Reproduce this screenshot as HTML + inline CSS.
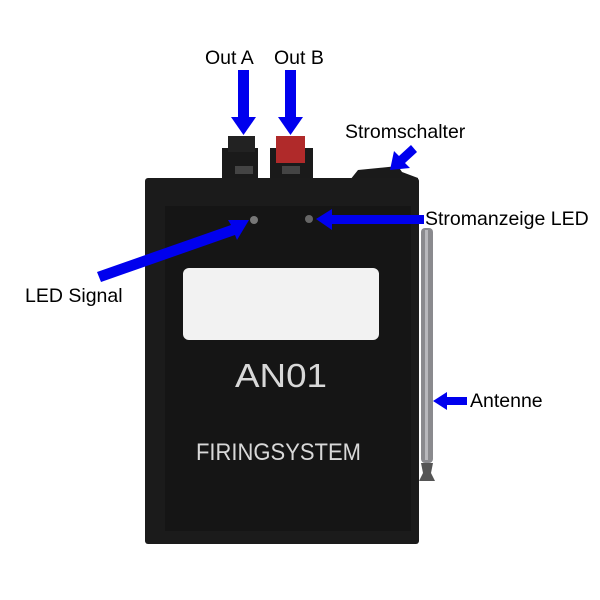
<!DOCTYPE html>
<html><head><meta charset="utf-8"><style>html,body{margin:0;padding:0;background:#fff}svg{display:block}</style></head><body>
<svg width="600" height="600" viewBox="0 0 600 600" xmlns="http://www.w3.org/2000/svg" font-family="Liberation Sans, sans-serif">
<rect width="600" height="600" fill="#fff"/>
<rect x="421" y="228" width="12" height="235" rx="4" fill="#8a8a8e"/>
<rect x="425" y="230" width="3" height="230" fill="#b8b8bc"/>
<path d="M421 463 h12 l-2 10 l4 8 h-16 l4 -8 z" fill="#555"/>
<path d="M350 180 L358 170 L398 166 L402 172 L418 178 L418 182 L350 182 Z" fill="#1a1a1a"/>
<rect x="222" y="148" width="36" height="32" fill="#1a1a1a"/>
<rect x="228" y="136" width="27" height="16" fill="#222"/>
<rect x="235" y="166" width="18" height="8" fill="#444"/>
<rect x="270" y="148" width="43" height="32" fill="#1a1a1a"/>
<rect x="276" y="136" width="29" height="27" fill="#b02a2a"/>
<rect x="282" y="166" width="18" height="8" fill="#444"/>
<rect x="145" y="178" width="274" height="366" rx="3" fill="#1b1b1b"/>
<rect x="165" y="206" width="246" height="325" fill="#151515"/>
<circle cx="254" cy="220" r="4" fill="#777"/>
<circle cx="309" cy="219" r="4" fill="#666"/>
<rect x="183" y="268" width="196" height="72" rx="6" fill="#f2f2f2"/>
<text x="235" y="387" font-size="33" fill="#d8d8d8" textLength="92" lengthAdjust="spacingAndGlyphs">AN01</text>
<text x="196" y="460" font-size="24" fill="#d8d8d8" textLength="165" lengthAdjust="spacingAndGlyphs">FIRINGSYSTEM</text>
<g fill="#0000ee">
<rect x="238" y="70" width="11" height="50"/><path d="M231 117 h25 l-12.5 18 z"/>
<rect x="285" y="70" width="11" height="50"/><path d="M278 117 h25 l-12.5 18 z"/>
<path d="M316 219 l16 -10 v6 h92 v9 h-92 v6 z"/>
<path d="M249 220 l-21 0 l3 5 l-134 47 l4 10 l134 -47 l2 5 z"/>
<path d="M433 401 l14 -9 v5 h20 v8 h-20 v5 z"/>
<path d="M390 170 l4 -19 l5 5 l12 -11 l6 7 l-12 11 l5 5 z"/>
</g>
<g font-size="19.5" fill="#000">
<text x="205" y="64">Out A</text>
<text x="274" y="64">Out B</text>
<text x="345" y="138">Stromschalter</text>
<text x="425" y="225">Stromanzeige LED</text>
<text x="25" y="302">LED Signal</text>
<text x="470" y="407">Antenne</text>
</g>
</svg>
</body></html>
